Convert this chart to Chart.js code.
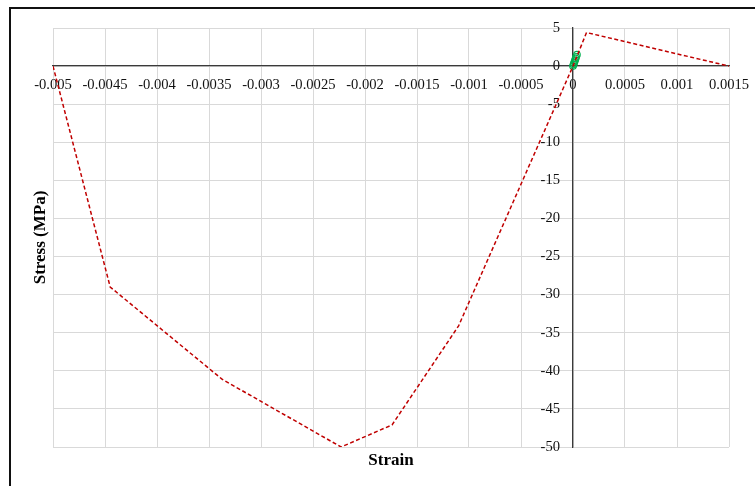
<!DOCTYPE html>
<html>
<head>
<meta charset="utf-8">
<script src="https://cdn.jsdelivr.net/npm/chart.js@4.4.1/dist/chart.umd.min.js"></script>
<style>
  html, body { margin: 0; padding: 0; background: #fff; overflow: hidden; }
  #wrap { position: relative; width: 755px; height: 486px; }
  #frame { position: absolute; left: 9px; top: 7px; width: 800px; height: 600px; border: 2.5px solid #111; box-sizing: border-box; }
  canvas { position: absolute; left: 0; top: 0; }
</style>
</head>
<body>
<div id="wrap">
  <div id="frame"></div>
  <canvas id="chart" width="755" height="486"></canvas>
</div>
<script>
// concrete stress-strain curve (red dashed)
const modelStrain = [-0.005, -0.00445, -0.003375, -0.00223, -0.00174, -0.0011, 0, 0.00013, 0.0015];
const modelStress = [0, -29, -41.1, -50, -47.1, -34.1, 0, 4.4, 0];

// measured points near the origin (green circles)
const testStrain = [0, 0.000005, 0.00001, 0.000015, 0.00002, 0.000025, 0.00003, 0.000038];
const testStress = [0, 0.2, 0.4, 0.6, 0.8, 1.0, 1.2, 1.5];

const strainTicks = [-0.005, -0.0045, -0.004, -0.0035, -0.003, -0.0025, -0.002, -0.0015, -0.001, -0.0005, 0, 0.0005, 0.001, 0.0015];
const stressTicks = [5, 0, -5, -10, -15, -20, -25, -30, -35, -40, -45, -50];

const FONT = "'Liberation Serif', 'Times New Roman', serif";

const toPoints = (xs, ys) => xs.map((x, i) => ({ x, y: ys[i] }));

// y labels sit a little left of the crossing axis
const yLabelGap = {
  id: "yLabelGap",
  beforeDraw(chart) {
    const items = chart.scales.y.getLabelItems();
    if (items._shifted) return;
    items.forEach(it => { it.options.translation[0] -= 13; });
    items._shifted = true;
  }
};

const axisTitles = {
  id: "axisTitles",
  afterDraw(chart) {
    const { ctx, chartArea: a } = chart;
    ctx.save();
    ctx.fillStyle = "#000";
    ctx.font = "bold 17px " + FONT;
    ctx.textAlign = "center";
    ctx.textBaseline = "middle";
    ctx.fillText("Strain", (a.left + a.right) / 2, 461);
    ctx.translate(41, (a.top + a.bottom) / 2);
    ctx.rotate(-Math.PI / 2);
    ctx.fillText("Stress (MPa)", 0, 0);
    ctx.restore();
  }
};

new Chart(document.getElementById("chart"), {
  type: "scatter",
  data: {
    datasets: [
      {
        data: toPoints(modelStrain, modelStress),
        showLine: true,
        borderColor: "#c00000",
        borderWidth: 1.5,
        borderDash: [4, 2.5],
        pointRadius: 0,
        fill: false
      },
      {
        data: toPoints(testStrain, testStress),
        showLine: false,
        pointRadius: 3.3,
        pointBorderWidth: 1.1,
        pointBorderColor: "#00b050",
        pointBackgroundColor: "rgba(255,255,255,0)"
      }
    ]
  },
  options: {
    responsive: false,
    animation: false,
    layout: { padding: { left: 53, top: 28, right: 26, bottom: 39 } },
    plugins: { legend: { display: false }, tooltip: { enabled: false } },
    scales: {
      x: {
        type: "linear",
        min: -0.005, max: 0.0015,
        position: { y: 0 },
        afterFit: s => { s.height = 0; s.paddingLeft = 0; s.paddingRight = 0; },
        afterBuildTicks: s => { s.ticks = strainTicks.map(v => ({ value: v })); },
        grid: { color: "#d9d9d9", lineWidth: 1, drawTicks: false },
        border: { display: true, color: "#3a3a3a", width: 1.3 },
        ticks: {
          padding: 10,
          color: "#111",
          font: { family: FONT, size: 14.6 },
          maxRotation: 0,
          autoSkip: false,
          callback: v => String(v)
        }
      },
      y: {
        type: "linear",
        min: -50, max: 5,
        position: { x: 0 },
        afterFit: s => { s.width = 0; s.paddingTop = 0; s.paddingBottom = 0; },
        afterBuildTicks: s => { s.ticks = stressTicks.map(v => ({ value: v })); },
        grid: { color: "#d9d9d9", lineWidth: 1, drawTicks: false },
        border: { display: true, color: "#3a3a3a", width: 1.3 },
        ticks: {
          padding: 0,
          color: "#111",
          font: { family: FONT, size: 14.6 },
          autoSkip: false,
          callback: v => String(v)
        }
      }
    }
  },
  plugins: [yLabelGap, axisTitles]
});
</script>
</body>
</html>
